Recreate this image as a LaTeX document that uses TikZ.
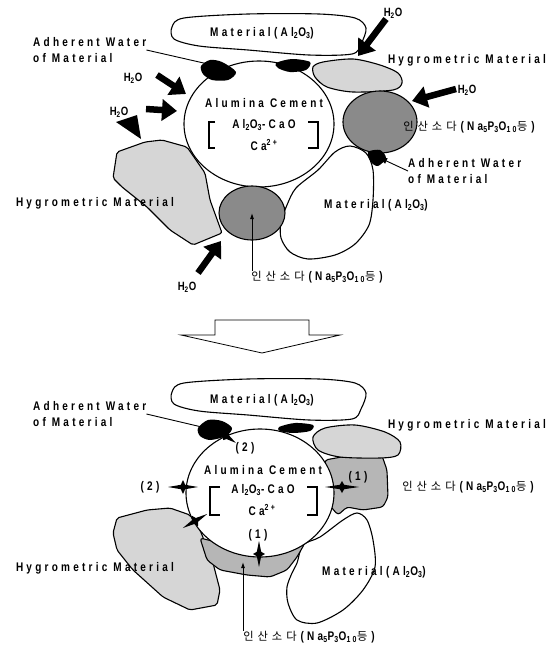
\documentclass[tikz,border=0pt]{standalone}
\usepackage{fontspec}
\setmainfont{Liberation Sans}[LetterSpace=26, FakeStretch=0.8]
\newfontfamily\krfont{Noto Sans CJK KR}[Scale=0.9]
\newfontfamily\hfont{Liberation Sans}[LetterSpace=6, FakeStretch=0.8]
\definecolor{hygrogray}{RGB}{214,214,214}
\definecolor{sodadark}{RGB}{138,138,138}
\definecolor{sodalight}{RGB}{182,182,182}
\usetikzlibrary{arrows.meta,shapes.geometric}
\newcommand\krgap{\hspace{4pt}}
\newcommand\sodalabel{{\krfont\mdseries 인\krgap 산\krgap 소\krgap 다\krgap}(Na\textsubscript{5}P\textsubscript{3}O\textsubscript{10}{\krfont\mdseries 등}\krgap)}
\newcommand\alumina{Al\textsubscript{2}O\textsubscript{3}}
\newcommand\diastar[5]{\fill[shift={(#1,#2)},rotate={-(#3)}] (#4,0) -- (2.2,2.2) -- (0,#5) -- (-2.2,2.2) -- (-#4,0) -- (-2.2,-2.2) -- (0,-#5) -- (2.2,-2.2) -- cycle;}
\tikzset{
  lbl/.style={font=\fontsize{12.5}{15.5}\selectfont\bfseries, inner sep=0pt},
  hlbl/.style={font=\hfont\fontsize{12}{12}\selectfont\bfseries, inner sep=0pt},
  blob/.style={draw=black, line width=1.1pt, fill=white},
  hygro/.style={blob, fill=hygrogray},
  soda/.style={blob, fill=sodadark},
  sodb/.style={blob, fill=sodalight},
  waterarrow/.style={line width=6.5pt, -{Triangle[length=15pt,width=21pt]}},
  leader/.style={line width=0.9pt},
}

\begin{document}
\begin{tikzpicture}[x=1pt,y=-1pt]
  \useasboundingbox (0,0) rectangle (556,651);
  % ---- before: particles round the cement ----
  \draw[blob] plot[smooth cycle] coordinates {(172,27) (184,18) (248,14) (319,14) (355,18) (366,28) (361,44) (352,54) (309,55) (248,50) (199,46) (174,39)};
  \draw[hygro] plot[smooth cycle] coordinates {(313,67) (323,62) (353,59) (380,65) (398,73) (402,83) (393,90) (353,92) (327,87) (315,77)};
  \draw[blob] plot[smooth cycle] coordinates {(287,205) (296,188) (318,170) (335,152) (350,146) (366,153) (373,170) (373,200) (369,225) (355,244) (335,255) (308,259) (290,252) (281,238) (281,222)};
  \draw[hygro, rounded corners=2pt] (117,152) -- (145,142) -- (162,140) -- (187,147) -- (205,173) -- (210,200) -- (222,233) -- (193,245) -- (170,230) -- (147,207) -- (122,187) -- (113,178) -- cycle;
  \node[blob, ellipse, minimum width=150pt, minimum height=126pt] (cementA) at (259,124) {};
  \node[soda, ellipse, minimum width=74pt, minimum height=62pt] (sodaCircA) at (380,122) {};
  \node[soda, ellipse, minimum width=66pt, minimum height=54pt] (sodaCircB) at (252,213) {};
  % adherent water
  \fill plot[smooth cycle] coordinates {(201,66) (210,60) (222,62) (236,72) (228,80) (212,80) (203,74)};
  \fill plot[smooth cycle] coordinates {(276,63) (292,59) (310,62) (306,70) (290,72) (278,68)};
  \fill plot[smooth cycle] coordinates {(368,152) (380,150) (386,158) (378,166) (371,162)};
  % cement text
  \node[lbl] (cemNameA) at (264,103) {Alumina Cement};
  \node[lbl] (cemOxA) at (264,125) {Al\textsubscript{2}O\textsubscript{3}-CaO};
  \node[lbl] (cemIonA) at (264,145) {Ca\textsuperscript{2+}};
  \draw[line width=1.3pt] (215,122) -- (209,122) -- (209,148) -- (215,148);
  \draw[line width=1.3pt] (308,122) -- (318,122) -- (318,148) -- (308,148);
  % labels
  \node[lbl] (matTopA) at (262,33) {Material(\alumina)};
  \node[lbl, align=left, anchor=west] (adhTopA) at (33,50) {Adherent Water\\of Material};
  \coordinate (adhEndA) at (208,64);
  \draw[leader] (adhTopA.east) -- (adhEndA);
  \node[lbl] (hygRA) at (467,60) {Hygrometric Material};
  \node[lbl] (sodaRA) at (469,127) {\sodalabel};
  \node[lbl, align=left, anchor=west] (adhRA) at (408,171) {Adherent Water\\of Material};
  \coordinate (adhEndR) at (380,158);
  \draw[leader, -{Triangle[length=7pt,width=6pt]}] (adhRA.west) -- (adhEndR);
  \node[lbl] (matRA) at (376,205) {Material(\alumina)};
  \node[lbl] (hygLA) at (95,203) {Hygrometric Material};
  \node[lbl] (sodaBA) at (317,277) {\sodalabel};
  \draw[leader, -{Latex[length=6pt,width=4pt]}] (sodaCircB |- sodaBA.north) -- (sodaCircB.center);
  % water
  \node[hlbl] (h2oA) at (393,13) {H\textsubscript{2}O};
  \node[hlbl] (h2oB) at (133,78) {H\textsubscript{2}O};
  \node[hlbl] (h2oC) at (119,112) {H\textsubscript{2}O};
  \node[hlbl] (h2oD) at (467,90) {H\textsubscript{2}O};
  \node[hlbl] (h2oE) at (187,287) {H\textsubscript{2}O};
  \coordinate (wA1) at (386,19);  \coordinate (wA2) at (358,56);
  \coordinate (wB1) at (157,75);  \coordinate (wB2) at (186,94);
  \coordinate (wC1) at (146,109); \coordinate (wC2) at (177,111);
  \coordinate (wD1) at (456,89);  \coordinate (wD2) at (412,101);
  \coordinate (wE1) at (198,273); \coordinate (wE2) at (221,241);
  \draw[waterarrow] (wA1) -- (wA2);
  \draw[waterarrow] (wB1) -- (wB2);
  \draw[waterarrow] (wC1) -- (wC2);
  \draw[waterarrow] (wD1) -- (wD2);
  \draw[waterarrow] (wE1) -- (wE2);
  \fill (116,122) -- (137,115) -- (141,139) -- cycle;
  % ---- transition ----
  \draw[line width=0.8pt, fill=white] (215,320) -- (309,320) -- (309,335) -- (340,335) -- (262,353) -- (181,335) -- (215,335) -- cycle;
  % ---- after ----
  \draw[hygro, rounded corners=2pt] (117,518) -- (147,510) -- (170,508) -- (190,515) -- (200,530) -- (208,550) -- (213,563) -- (220,590) -- (217,605) -- (190,610) -- (163,597) -- (133,570) -- (117,550) -- (113,533) -- cycle;
  \draw[blob] plot[smooth cycle] coordinates {(303,545) (320,537) (343,520) (357,513) (367,520) (373,540) (375,567) (363,590) (343,610) (317,623) (297,620) (288,603) (287,587) (292,573) (297,563)};
  \draw[sodb, rounded corners=3pt] (200,538) -- (257,552) -- (305,543) -- (297,557) -- (287,570) -- (270,577) -- (247,575) -- (220,570) -- (207,560) -- cycle;
  \draw[sodb, rounded corners=3pt] (325,460) -- (380,450) -- (387,470) -- (388,497) -- (383,507) -- (363,510) -- (347,507) -- (338,515) -- (325,500) -- cycle;
  \draw[hygro] plot[smooth cycle] coordinates {(313,437) (325,428) (355,425) (385,432) (400,442) (398,455) (380,458) (340,457) (318,450)};
  \draw[blob] plot[smooth cycle] coordinates {(172,392) (184,383) (248,379) (319,379) (355,383) (366,393) (361,409) (352,419) (309,420) (248,415) (199,411) (174,404)};
  \node[blob, ellipse, minimum width=148pt, minimum height=128pt] (cementB) at (260,493) {};
  % adherent water and reaction points
  \fill plot[smooth cycle] coordinates {(198,428) (208,420) (222,421) (232,428) (226,436) (210,440) (200,436)};
  \fill plot[smooth cycle] coordinates {(279,427) (295,423) (313,425) (310,431) (293,433) (280,431)};
  \diastar{226}{436}{35}{12}{5}
  \diastar{183}{487}{0}{15}{7}
  \diastar{195}{521}{-30}{14}{6}
  \diastar{259}{554}{90}{13}{6}
  \diastar{342}{487}{0}{17}{6}
  % cement text
  \node[lbl] (mark2a) at (245,448) {(2)};
  \node[lbl] (cemNameB) at (263,470) {Alumina Cement};
  \node[lbl] (cemOxB) at (263,490) {Al\textsubscript{2}O\textsubscript{3}-CaO};
  \node[lbl] (cemIonB) at (262,510) {Ca\textsuperscript{2+}};
  \node[lbl] (mark1a) at (258,535) {(1)};
  \draw[line width=1.3pt] (220,487) -- (210,487) -- (210,515) -- (220,515);
  \draw[line width=1.3pt] (307,487) -- (317,487) -- (317,515) -- (307,515);
  % labels
  \node[lbl] (mark2b) at (150,487) {(2)};
  \node[lbl] (mark1b) at (358,477) {(1)};
  \node[lbl] (matTopB) at (262,400) {Material(\alumina)};
  \node[lbl, align=left, anchor=west] (adhTopB) at (33,414) {Adherent Water\\of Material};
  \coordinate (adhEndB) at (206,428);
  \draw[leader] (adhTopB.east) -- (adhEndB);
  \node[lbl] (hygRB) at (467,425) {Hygrometric Material};
  \node[lbl] (sodaRB) at (468,487) {\sodalabel};
  \node[lbl] (hygLB) at (95,568) {Hygrometric Material};
  \node[lbl] (matRB) at (374,572) {Material(\alumina)};
  \node[lbl] (sodaBB) at (309,637) {\sodalabel};
  \coordinate (sodaTipB) at (243,562);
  \draw[leader, -{Latex[length=6pt,width=4pt]}] (sodaTipB |- sodaBB.north) -- (sodaTipB);
\end{tikzpicture}
\end{document}
